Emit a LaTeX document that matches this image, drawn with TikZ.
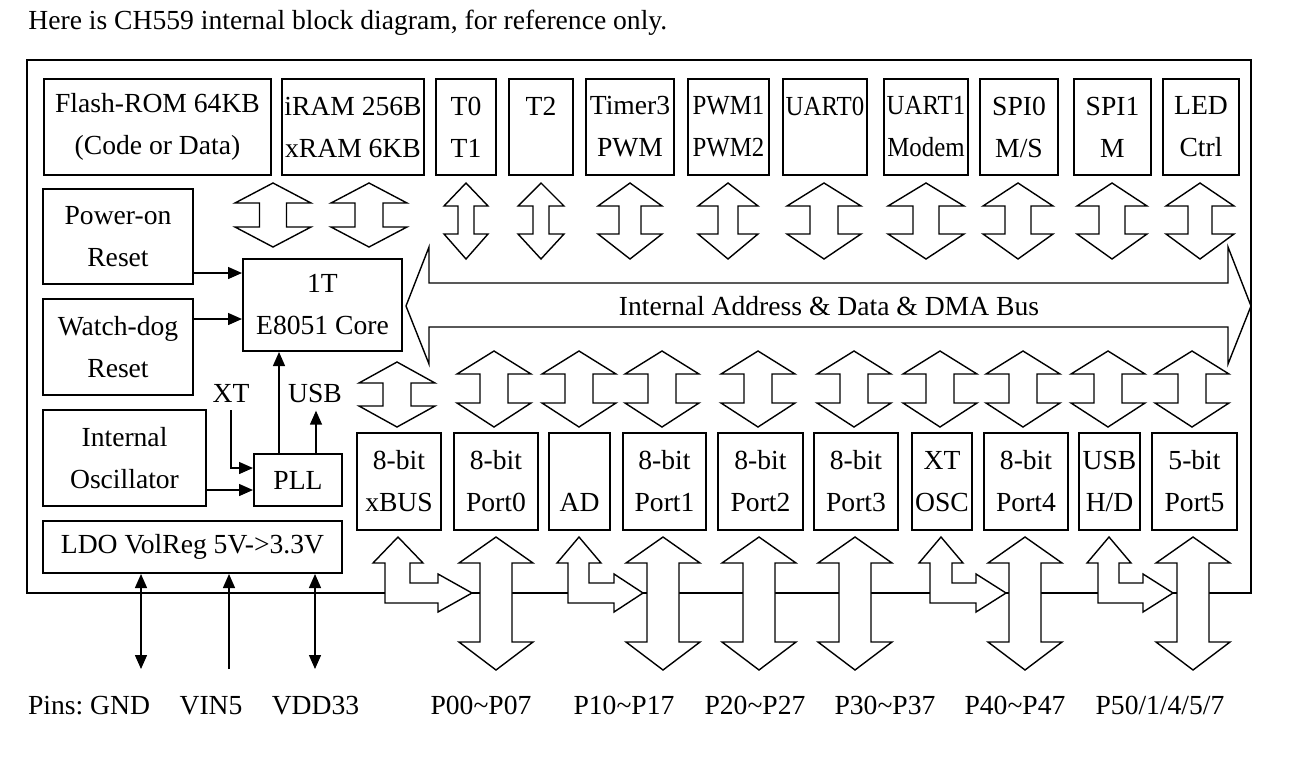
\documentclass[tikz,border=0pt]{standalone}
\usepackage{fontspec}
\setmainfont{Liberation Serif}
\usetikzlibrary{arrows.meta, positioning, calc}
\tikzset{
  unit/.style={rectangle, draw, line width=1pt, inner sep=0pt, align=center,
               font=\fontsize{13.8}{21}\selectfont},
  lbl/.style={inner sep=0pt, font=\fontsize{13.8}{21}\selectfont},
  sig/.style={-{Triangle[length=7pt, width=6pt]}, line width=0.7pt},
  sigboth/.style={{Triangle[length=7pt, width=6pt]}-{Triangle[length=7pt, width=6pt]}, line width=0.7pt},
  busarrow/.style={draw, fill=white, line width=0.7pt, line join=miter},
}
\newcommand{\narrow}[1]{\scalebox{0.9}[1]{#1}}

\begin{document}
\begin{tikzpicture}[x=0.5pt, y=-0.5pt]
  \useasboundingbox (0,0) rectangle (1316,756);
  \node[lbl, anchor=base west] (title) at (28,29) {Here is CH559 internal block diagram, for reference only.};

  % chip outline
  \draw[line width=1pt] (27,60) rectangle (1251,593);

  % top row
  \node[unit, minimum width=113.5pt, minimum height=48pt] (flash) at (157.5,127) {Flash-ROM 64KB\\(Code or Data)};
  \node[unit, minimum width=71pt, minimum height=48pt] (ram) at (353,127) {iRAM 256B\\xRAM 6KB};
  \node[unit, minimum width=30pt, minimum height=48pt] (tzero) at (466,127) {T0\\T1};
  \node[unit, minimum width=32pt, minimum height=48pt] (ttwo) at (541,127) {T2\\\phantom{T}};
  \node[unit, minimum width=44pt, minimum height=48pt] (timer) at (630,127) {Timer3\\PWM};
  \node[unit, minimum width=40.5pt, minimum height=48pt] (pwm) at (728.5,127) {\narrow{PWM1}\\\narrow{PWM2}};
  \node[unit, minimum width=42pt, minimum height=48pt] (uartz) at (825,127) {\narrow{UART0}\\\phantom{U}};
  \node[unit, minimum width=42pt, minimum height=48pt] (uarto) at (926,127) {\narrow{UART1}\\\narrow{Modem}};
  \node[unit, minimum width=39pt, minimum height=48pt] (spiz) at (1019,127) {SPI0\\M/S};
  \node[unit, minimum width=38.5pt, minimum height=48pt] (spio) at (1112.5,127) {SPI1\\M};
  \node[unit, minimum width=38pt, minimum height=48pt] (led) at (1201,127) {LED\\Ctrl};

  % left column
  \node[unit, minimum width=75pt, minimum height=47.5pt] (por) at (118,236.5) {Power-on\\Reset};
  \node[unit, minimum width=75pt, minimum height=48pt] (wdog) at (118,347) {Watch-dog\\Reset};
  \node[unit, minimum width=81.5pt, minimum height=48pt] (osc) at (124.5,458) {Internal\\Oscillator};
  \node[unit, minimum width=149.5pt, minimum height=26pt] (ldo) at (192.5,547) {LDO VolReg 5V->3.3V};
  \node[unit, minimum width=44pt, minimum height=26pt] (pll) at (298,480) {PLL};
  \node[unit, minimum width=79.5pt, minimum height=46pt] (core) at (322.5,305) {1T\\E8051 Core};
  \node[lbl, inner sep=4pt] (xt) at (231,393) {XT};
  \node[lbl, inner sep=4pt] (usb) at (315,393) {USB};

  % bottom row
  \node[unit, minimum width=42pt, minimum height=48.5pt] (xbus) at (399,481.5) {8-bit\\xBUS};
  \node[unit, minimum width=42pt, minimum height=48.5pt] (portz) at (496,481.5) {8-bit\\Port0};
  \node[unit, minimum width=30.5pt, minimum height=48.5pt] (ad) at (579.5,481.5) {\phantom{8}\\AD};
  \node[unit, minimum width=41.5pt, minimum height=48.5pt] (porto) at (664.5,481.5) {8-bit\\Port1};
  \node[unit, minimum width=42.5pt, minimum height=48.5pt] (portt) at (760.5,481.5) {8-bit\\Port2};
  \node[unit, minimum width=42pt, minimum height=48.5pt] (porth) at (856,481.5) {8-bit\\Port3};
  \node[unit, minimum width=30pt, minimum height=48.5pt] (xtosc) at (942,481.5) {XT\\OSC};
  \node[unit, minimum width=42pt, minimum height=48.5pt] (portf) at (1026,481.5) {8-bit\\Port4};
  \node[unit, minimum width=30.5pt, minimum height=48.5pt] (usbhd) at (1109.5,481.5) {USB\\H/D};
  \node[unit, minimum width=42.5pt, minimum height=48.5pt] (portv) at (1194.5,481.5) {5-bit\\Port5};

  % signals into the core
  \coordinate (porout) at ([yshift=6pt]por.south east);
  \coordinate (wdogout) at ([yshift=-10.5pt]wdog.north east);
  \coordinate (xtin) at ([yshift=-7.5pt]pll.north west);
  \coordinate (pllup) at ([xshift=13pt]pll.north west);
  \coordinate (pllusb) at ([xshift=-13.5pt]pll.north east);
  \draw[sig] (porout) -- (porout -| core.west);
  \draw[sig] (wdogout) -- (wdogout -| core.west);
  \draw[sig] (xt.south) -- (xt.south |- xtin) -- (xtin);
  \draw[sig] ([yshift=8.5pt]osc.south east) -- ([yshift=8.5pt]pll.south west);
  \draw[sig] (pllup) -- (pllup |- core.south);
  \draw[sig] (pllusb) -- (pllusb |- usb.south);

  % power pins
  \coordinate (gndpin) at (141,669);
  \coordinate (vinpin) at (229,669);
  \coordinate (vddpin) at (315,669);
  \draw[sigboth] (gndpin) -- (gndpin |- ldo.south);
  \draw[sig] (vinpin) -- (vinpin |- ldo.south);
  \draw[sigboth] (vddpin) -- (vddpin |- ldo.south);

  % internal bus
  \draw[busarrow] (406,306) -- (429,247) -- (429,283) -- (1228,283) -- (1228,247) -- (1251,306)
    -- (1228,364) -- (1228,327) -- (429,327) -- (429,364) -- cycle;
  \node[lbl] (bus) at (829,306) {Internal Address \& Data \& DMA Bus};

  % bus taps
  \foreach \cx/\hh/\sh in {273/38/13.5, 369/38/14}
    \draw[busarrow] (\cx,183) -- (\cx+\hh,203) -- (\cx+\sh,203) -- (\cx+\sh,227) -- (\cx+\hh,227) -- (\cx,247)
      -- (\cx-\hh,227) -- (\cx-\sh,227) -- (\cx-\sh,203) -- (\cx-\hh,203) -- cycle;
  \foreach \cx/\hh/\sh in {466/22/8, 541/23/8, 630/32/11, 728/30/10, 824/37/14, 926/38/13, 1018/35/13, 1112/35/13, 1200/34/12}
    \draw[busarrow] (\cx,183) -- (\cx+\hh,206) -- (\cx+\sh,206) -- (\cx+\sh,234) -- (\cx+\hh,234) -- (\cx,259)
      -- (\cx-\hh,234) -- (\cx-\sh,234) -- (\cx-\sh,206) -- (\cx-\hh,206) -- cycle;
  \draw[busarrow] (397,362) -- (435,383) -- (411,383) -- (411,406) -- (435,406) -- (397,427)
    -- (359,406) -- (383,406) -- (383,383) -- (359,383) -- cycle;
  \foreach \cx in {494, 579, 662, 758, 854, 940, 1023, 1108, 1192}
    \draw[busarrow] (\cx,351) -- (\cx+37,374) -- (\cx+14,374) -- (\cx+14,403) -- (\cx+37,403) -- (\cx,427)
      -- (\cx-37,403) -- (\cx-14,403) -- (\cx-14,374) -- (\cx-37,374) -- cycle;

  % port pins
  \foreach \cx in {496, 663, 759, 855, 1025, 1193}
    \draw[busarrow] (\cx,537) -- (\cx+37,563) -- (\cx+16,563) -- (\cx+16,642) -- (\cx+37,642) -- (\cx,670)
      -- (\cx-37,642) -- (\cx-16,642) -- (\cx-16,563) -- (\cx-37,563) -- cycle;
  \foreach \tx/\hh/\sl/\sr/\hb/\ht in {398/25/385/410/438/472, 579/22/568/589/614/643,
                                        941/22/930/952/976/1006, 1109/22/1098/1119/1143/1173}
    \draw[busarrow] (\tx,537) -- (\tx+\hh,563) -- (\sr,563) -- (\sr,583) -- (\hb,583) -- (\hb,574) -- (\ht,593)
      -- (\hb,612) -- (\hb,603) -- (\sl,603) -- (\sl,563) -- (\tx-\hh,563) -- cycle;

  % pin names
  \node[lbl, anchor=base] (pgnd) at (89,714) {Pins:\ GND};
  \node[lbl, anchor=base] (pvin) at (211,714) {VIN5};
  \node[lbl, anchor=base] (pvdd) at (315.5,714) {VDD33};
  \node[lbl, anchor=base] (ppz) at (481,714) {P00\textasciitilde P07};
  \node[lbl, anchor=base] (ppo) at (624,714) {P10\textasciitilde P17};
  \node[lbl, anchor=base] (ppt) at (755,714) {P20\textasciitilde P27};
  \node[lbl, anchor=base] (pph) at (885,714) {P30\textasciitilde P37};
  \node[lbl, anchor=base] (ppf) at (1015,714) {P40\textasciitilde P47};
  \node[lbl, anchor=base] (ppv) at (1160,714) {P50/1/4/5/7};
\end{tikzpicture}
\end{document}
